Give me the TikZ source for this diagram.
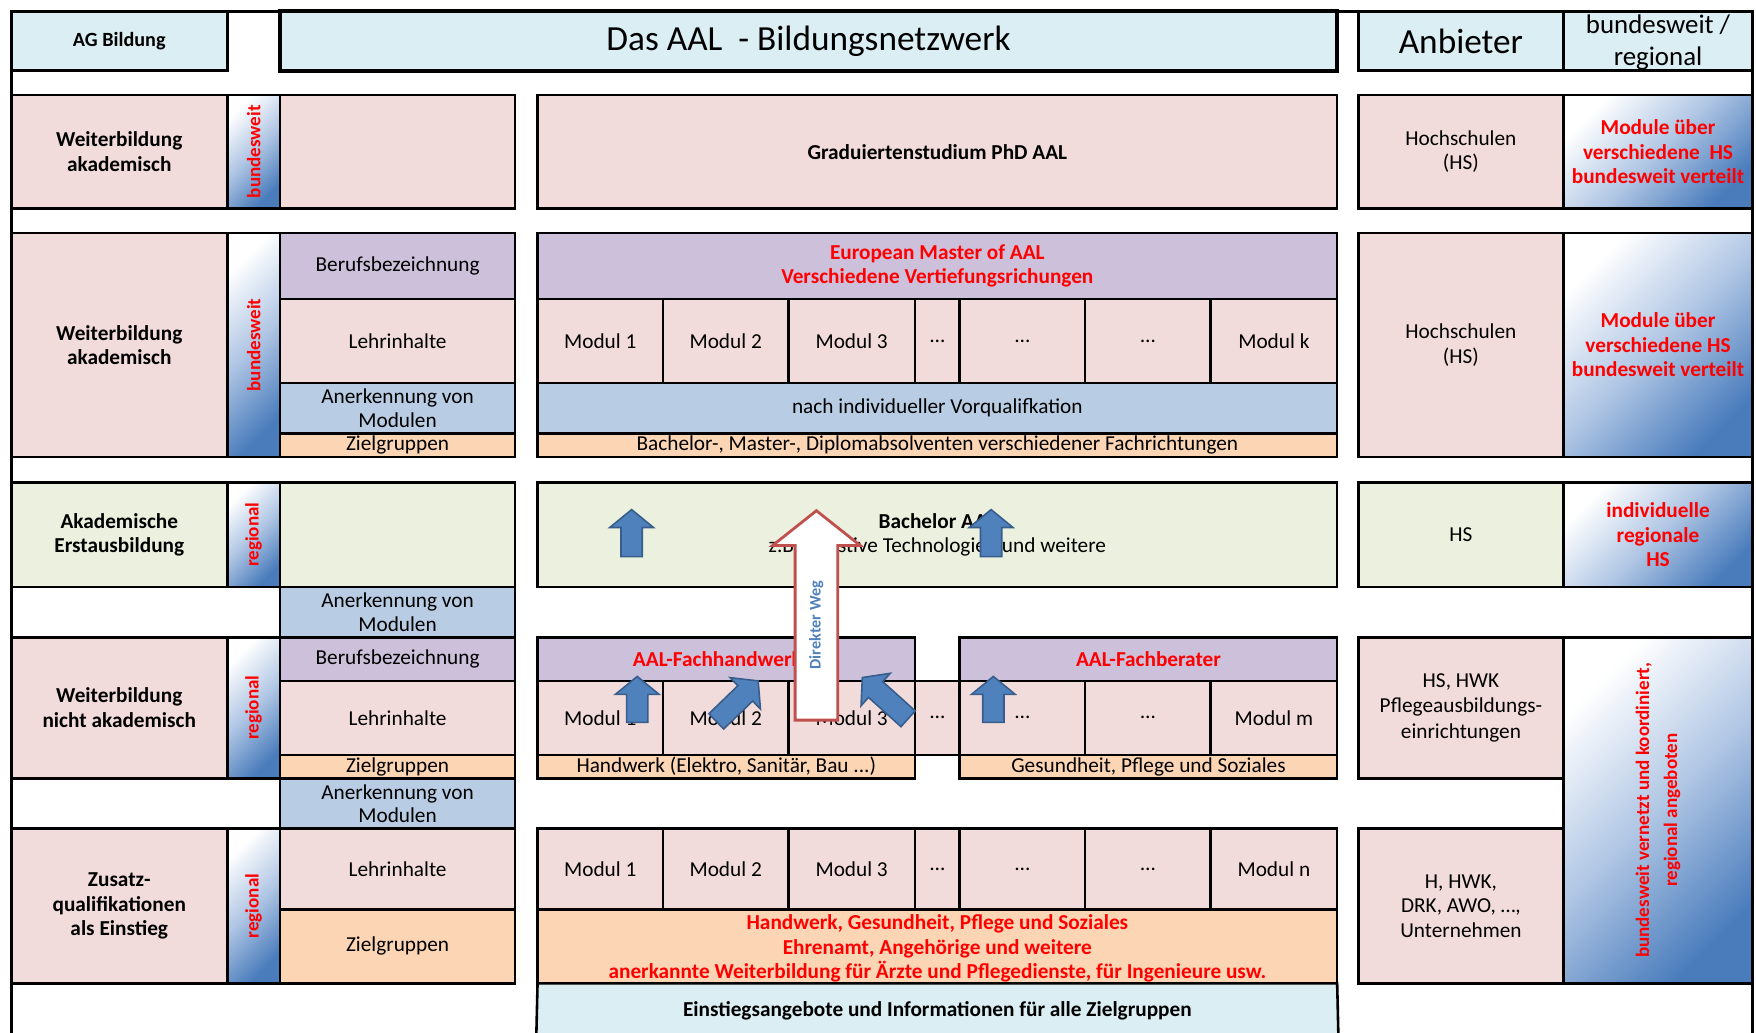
\documentclass[tikz,border=0pt]{standalone}
\usepackage{fontspec}
\setmainfont{Carlito}
\definecolor{hdrblue}{RGB}{218,238,243}
\definecolor{pinkc}{RGB}{242,220,219}
\definecolor{purp}{RGB}{204,192,218}
\definecolor{bgrey}{RGB}{184,204,228}
\definecolor{orng}{RGB}{252,213,180}
\definecolor{grn}{RGB}{235,241,222}
\definecolor{gblue}{RGB}{74,124,188}
\definecolor{gmid}{RGB}{176,198,228}
\definecolor{arrowblue}{RGB}{79,129,189}
\definecolor{arrowedge}{RGB}{56,93,138}
\definecolor{arrowred}{RGB}{192,80,77}
\newcommand\fs[2]{\fontsize{#1}{#2}\selectfont}
\tikzset{
  cellbase/.style={draw=black, line width=2.3pt, inner sep=0pt, align=center, font=\fs{19}{22}},
  pk/.style={fill=pinkc}, pu/.style={fill=purp}, bg/.style={fill=bgrey},
  og/.style={fill=orng}, gr/.style={fill=grn}, hb/.style={fill=hdrblue},
  gradbox/.style={top color=white, bottom color=gblue, middle color=gmid, shading angle=45},
  bfnn/.style={font=\fs{19}{22}\bfseries},
  redbf/.style={text=red, font=\fs{19}{22}\bfseries},
  rotlabel/.style={rotate=90, text=red, font=\fs{17}{20}\bfseries, inner sep=0pt},
  blockarrow/.style={fill=arrowblue, draw=arrowedge, line width=1.4pt, line join=miter},
  outerline/.style={line width=2.5pt, line cap=rect},
  cellline/.style={line width=2.3pt}
}
\newcommand\cell[7][]{%
  \node[cellbase,#1,minimum width={(#5-#3)*1pt},minimum height={(#6-#4)*1pt}] (#2) at ({(#3+#5)/2},{(#4+#6)/2}) {#7};}
\newcommand\uparrowshape[4]{%
  \begin{scope}[shift={(#1,#2)}, rotate=#3]
    \draw[blockarrow] (0,0) -- (19.5,16) -- (9.5,16) -- (9.5,#4) -- (-9.5,#4) -- (-9.5,16) -- (-19.5,16) -- cycle;
  \end{scope}}
\begin{document}
\begin{tikzpicture}[x=1pt,y=-1pt]
\useasboundingbox[fill=white] (0,0) rectangle (1568,922);
% header
\cell[hb,font=\fs{18}{21}\bfseries]{agb}{10}{10}{203}{63}{AG Bildung}
\cell[hb,line width=3.5pt,font=\fs{31.5}{36}]{title}{250}{10}{1194}{63}{Das AAL~ - Bildungsnetzwerk}
\cell[hb,font=\fs{31.5}{36}]{anb}{1213}{10}{1396}{63}{Anbieter}
\cell[hb]{bwr}{1396}{10}{1565}{63}{}
\node[font=\fs{24}{28}, align=center, inner sep=0pt] (bwrt) at (1480.5,38) {bundesweit /\\regional};
% row 1
\cell[pk,bfnn]{a1}{10}{85}{203}{186}{Weiterbildung\\akademisch}
\cell[gradbox]{b1}{203}{85}{250}{186}{}
\cell[pk]{c1}{250}{85}{460}{186}{}
\cell[pk,bfnn]{d1}{480}{85}{1194}{186}{Graduiertenstudium PhD AAL}
\cell[pk]{e1}{1213}{85}{1396}{186}{Hochschulen\\(HS)}
\cell[gradbox,redbf]{f1}{1396}{85}{1565}{186}{Module über\\verschiedene~ HS\\bundesweit verteilt}
\node[rotlabel] (rl1) at (b1) {bundesweit};
% row 2
\cell[pk,bfnn]{a2}{10}{208}{203}{408}{Weiterbildung\\akademisch}
\cell[gradbox]{b2}{203}{208}{250}{408}{}
\cell[pu]{c2a}{250}{208}{460}{267}{Berufsbezeichnung}
\cell[pk]{c2b}{250}{267}{460}{342}{Lehrinhalte}
\cell[bg,font=\fs{19}{21}]{c2c}{250}{342}{460}{387}{Anerkennung von\\Modulen}
\cell[og]{c2d}{250}{387}{460}{408}{Zielgruppen}
\cell[pu,redbf,font=\fs{19}{21}\bfseries]{d2a}{480}{208}{1194}{267}{European Master of AAL\\Verschiedene Vertiefungsrichungen}
\cell[pk]{d2m1}{480}{267}{592}{342}{Modul 1}
\cell[pk]{d2m2}{592}{267}{704}{342}{Modul 2}
\cell[pk]{d2m3}{704}{267}{817}{342}{Modul 3}
\cell[pk]{d2m4}{817}{267}{857}{342}{…}
\cell[pk]{d2m5}{857}{267}{969}{342}{…}
\cell[pk]{d2m6}{969}{267}{1081}{342}{…}
\cell[pk]{d2m7}{1081}{267}{1194}{342}{Modul k}
\cell[bg]{d2c}{480}{342}{1194}{387}{nach individueller Vorqualifkation}
\cell[og]{d2d}{480}{387}{1194}{408}{Bachelor-, Master-, Diplomabsolventen verschiedener Fachrichtungen}
\cell[pk]{e2}{1213}{208}{1396}{408}{Hochschulen\\(HS)}
\cell[gradbox,redbf]{f2}{1396}{208}{1565}{408}{Module über\\verschiedene HS\\bundesweit verteilt}
\node[rotlabel] (rl2) at (b2) {bundesweit};
% row 3
\cell[gr,bfnn]{a3}{10}{431}{203}{524}{Akademische\\Erstausbildung}
\cell[gradbox]{b3}{203}{431}{250}{524}{}
\cell[gr]{c3}{250}{431}{460}{524}{}
\cell[gr]{d3}{480}{431}{1194}{524}{\textbf{Bachelor AAL}\\z.B. Assistive Technologien und weitere}
\cell[gr]{e3}{1213}{431}{1396}{524}{HS}
\cell[gradbox,redbf]{f3}{1396}{431}{1565}{524}{individuelle\\regionale\\HS}
\node[rotlabel] (rl3) at (b3) {regional};
\cell[bg,font=\fs{19}{21}]{c3x}{250}{524}{460}{569}{Anerkennung von\\Modulen}
% row 4
\cell[pk,bfnn]{a4}{10}{569}{203}{695}{Weiterbildung\\nicht akademisch}
\cell[gradbox]{b4}{203}{569}{250}{695}{}
\cell[pu]{c4a}{250}{569}{460}{608}{Berufsbezeichnung}
\cell[pk]{c4b}{250}{608}{460}{674}{Lehrinhalte}
\cell[og]{c4c}{250}{674}{460}{695}{Zielgruppen}
\cell[pu,redbf]{d4a}{480}{569}{817}{608}{AAL-Fachhandwerker}
\cell[pu,redbf]{d4b}{857}{569}{1194}{608}{AAL-Fachberater}
\cell[pk]{d4m1}{480}{608}{592}{674}{Modul 1}
\cell[pk]{d4m2}{592}{608}{704}{674}{Modul 2}
\cell[pk]{d4m3}{704}{608}{817}{674}{Modul 3}
\cell[pk]{d4m4}{817}{608}{857}{674}{…}
\cell[pk]{d4m5}{857}{608}{969}{674}{…}
\cell[pk]{d4m6}{969}{608}{1081}{674}{…}
\cell[pk]{d4m7}{1081}{608}{1194}{674}{Modul m}
\cell[og]{d4c}{480}{674}{817}{695}{Handwerk (Elektro, Sanitär, Bau ...)}
\cell[og]{d4d}{857}{674}{1194}{695}{Gesundheit, Pflege und Soziales}
\cell[pk,font=\fs{19}{22.5}]{e4}{1213}{569}{1396}{695}{HS, HWK\\Pflegeausbildungs-\\einrichtungen}
\cell[gradbox]{f4}{1396}{569}{1565}{878}{}
\node[rotlabel] (rl4) at (b4) {regional};
\node[rotate=90, text=red, font=\fs{17}{25}\bfseries, align=center, inner sep=0pt] (rlf) at (f4) {bundesweit vernetzt und koordiniert,\\regional angeboten};
\cell[bg,font=\fs{19}{21}]{c4x}{250}{695}{460}{740}{Anerkennung von\\Modulen}
% row 5
\cell[pk,bfnn]{a5}{10}{740}{203}{878}{Zusatz-\\qualifikationen\\als Einstieg}
\cell[gradbox]{b5}{203}{740}{250}{878}{}
\cell[pk]{c5a}{250}{740}{460}{812}{Lehrinhalte}
\cell[og]{c5b}{250}{812}{460}{878}{Zielgruppen}
\cell[pk]{d5m1}{480}{740}{592}{812}{Modul 1}
\cell[pk]{d5m2}{592}{740}{704}{812}{Modul 2}
\cell[pk]{d5m3}{704}{740}{817}{812}{Modul 3}
\cell[pk]{d5m4}{817}{740}{857}{812}{…}
\cell[pk]{d5m5}{857}{740}{969}{812}{…}
\cell[pk]{d5m6}{969}{740}{1081}{812}{…}
\cell[pk]{d5m7}{1081}{740}{1194}{812}{Modul n}
\cell[og]{d5b}{480}{812}{1194}{878}{}
\node[redbf, align=center, inner sep=0pt] (d5bt) at (837,847) {Handwerk, Gesundheit, Pflege und Soziales\\Ehrenamt, Angehörige und weitere\\anerkannte Weiterbildung für Ärzte und Pflegedienste, für Ingenieure usw.};
\cell[pk]{e5}{1213}{740}{1396}{878}{H, HWK,\\DRK, AWO, …,\\Unternehmen}
\node[rotlabel] (rl5) at (b5) {regional};
\cell[hb,bfnn,draw=none]{ein}{480}{879}{1194}{926}{Einstiegsangebote und Informationen für alle Zielgruppen}
\draw[cellline] (ein.south west) -- (480,878) -- (1194,878) -- (ein.south east);
% outer frame
\draw[outerline] (10,922) -- (10,10) -- (1565,10) -- (1565,922);
% blue arrows
\uparrowshape{564}{455}{0}{42}
\uparrowshape{885}{455}{0}{42}
\uparrowshape{569}{604}{0}{41}
\uparrowshape{677}{608}{-46}{52}
\uparrowshape{770}{605}{48}{55}
\uparrowshape{887}{604}{0}{41}
% direct path arrow
\draw[fill=white, draw=arrowred, line width=2.5pt, line join=miter] (729,456) -- (768,487) -- (748,487) -- (748,643) -- (710,643) -- (710,487) -- (690,487) -- cycle;
\node[rotate=90, text=arrowblue, font=\fs{14.5}{16}\bfseries, inner sep=0pt] (dw) at (729,558) {Direkter Weg};
\end{tikzpicture}
\end{document}
